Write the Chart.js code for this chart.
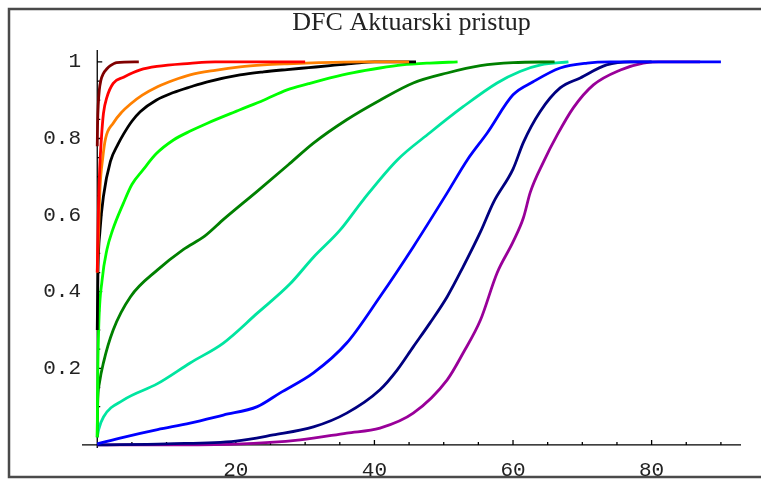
<!DOCTYPE html>
<html>
<head>
<meta charset="utf-8">
<script src="https://cdn.jsdelivr.net/npm/chart.js@4"></script>
<style>
  html, body { margin: 0; padding: 0; background: #fff; }
  canvas { display: block; }
</style>
</head>
<body>
<canvas id="myChart" width="761" height="479"></canvas>
<script>
// tick labels
const xTickVals = [20, 40, 60, 80];
const yTickVals = [0.2, 0.4, 0.6, 0.8, 1];

// one x/y pair per curve
const darkRedX = [0, 0.05, 0.15, 0.3, 0.5, 0.9, 1.4, 1.9, 2.8, 6];
const darkRedY = [0.78, 0.84, 0.89, 0.927, 0.95, 0.97, 0.982, 0.99, 0.998, 1];

const redX = [0, 0.15, 0.35, 0.6, 0.9, 1.4, 2.3, 3.8, 6.2, 8.6, 13.4, 17, 30];
const redY = [0.45, 0.6, 0.72, 0.8, 0.866, 0.908, 0.944, 0.96, 0.979, 0.988, 0.996, 1, 1];

const orangeX = [0, 0.2, 0.4, 0.8, 1.2, 2.3, 3.5, 4.8, 6.5, 8.7, 11, 13.4, 17, 20.6, 24, 27.4, 32, 38, 45];
const orangeY = [0.45, 0.56, 0.67, 0.75, 0.8, 0.84, 0.868, 0.89, 0.913, 0.935, 0.952, 0.966, 0.978, 0.987, 0.992, 0.995, 0.998, 1, 1];

const blackX = [0, 0.1, 0.4, 0.9, 1.9, 3, 3.75, 5, 6.2, 8.5, 11, 13.5, 15.9, 20.6, 24, 27.4, 30.5, 33.6, 37, 40, 46];
const blackY = [0.3, 0.45, 0.56, 0.65, 0.74, 0.785, 0.81, 0.845, 0.87, 0.9, 0.92, 0.935, 0.948, 0.966, 0.974, 0.98, 0.985, 0.99, 0.996, 1, 1];

const limeX = [0, 0.05, 0.2, 0.7, 1.4, 2.2, 3.75, 5, 6.6, 8.5, 11, 13.5, 15.9, 20.6, 24, 27.4, 30.5, 33.6, 37, 40.8, 44, 48, 52];
const limeY = [0.02, 0.15, 0.3, 0.43, 0.51, 0.56, 0.63, 0.68, 0.718, 0.76, 0.796, 0.82, 0.84, 0.875, 0.9, 0.927, 0.943, 0.958, 0.972, 0.984, 0.992, 0.997, 1];

const greenX = [0, 0.05, 0.3, 0.9, 2.3, 4.8, 8.7, 12.4, 15.5, 18.3, 23.2, 27.8, 31.2, 36, 40.8, 45.6, 50.5, 55.3, 60, 66];
const greenY = [0.02, 0.1, 0.16, 0.215, 0.3, 0.387, 0.457, 0.51, 0.545, 0.59, 0.664, 0.735, 0.788, 0.849, 0.9, 0.945, 0.971, 0.99, 0.998, 1];

const aquaX = [0, 0.2, 0.9, 3.75, 8.7, 13.4, 18.2, 23.1, 27.8, 31.2, 35, 38.4, 43.3, 48, 52.8, 57.7, 61, 64, 68];
const aquaY = [0.02, 0.04, 0.073, 0.117, 0.16, 0.214, 0.266, 0.344, 0.42, 0.49, 0.56, 0.64, 0.744, 0.815, 0.883, 0.945, 0.975, 0.992, 1];

const blueX = [0, 3.75, 8.7, 13.4, 18.2, 23.1, 26.4, 31.2, 36, 40.8, 45.6, 50.5, 53.4, 56.3, 60, 62.9, 66.8, 70.7, 74, 90];
const blueY = [0.003, 0.02, 0.04, 0.057, 0.078, 0.1, 0.136, 0.188, 0.266, 0.387, 0.517, 0.658, 0.744, 0.815, 0.914, 0.948, 0.984, 0.997, 1, 1];

const navyX = [0, 10, 20, 25.4, 31.2, 36, 40.8, 43.3, 45.6, 48, 50.5, 52.8, 55.3, 57.2, 60, 61.5, 63.9, 66.8, 69.7, 73.5, 77, 80];
const navyY = [0, 0.003, 0.01, 0.026, 0.047, 0.083, 0.144, 0.196, 0.256, 0.318, 0.387, 0.465, 0.556, 0.634, 0.72, 0.79, 0.87, 0.932, 0.958, 0.992, 1, 1];

const purpleX = [0, 10, 20, 29.3, 36, 40.8, 45.6, 50.5, 52.8, 55.3, 57.7, 60, 61.5, 62.5, 64.4, 66.4, 68.7, 71.6, 75.5, 78.8, 81, 87];
const purpleY = [0, 0, 0.002, 0.013, 0.031, 0.044, 0.083, 0.17, 0.24, 0.326, 0.449, 0.53, 0.593, 0.66, 0.739, 0.81, 0.88, 0.94, 0.979, 0.997, 1, 1];

function krivulja(xs, ys, boja) {
    return {
        data: xs.map((x, i) => ({ x: x, y: ys[i] })),
        borderColor: boja,
        borderWidth: 2.8,
        pointRadius: 0,
        cubicInterpolationMode: 'monotone',
        fill: false
    };
}

const data = {
    datasets: [
        krivulja(darkRedX, darkRedY, '#800000'),
        krivulja(redX, redY, '#ff0000'),
        krivulja(orangeX, orangeY, '#ff8000'),
        krivulja(blackX, blackY, '#000000'),
        krivulja(limeX, limeY, '#00ff00'),
        krivulja(greenX, greenY, '#008000'),
        krivulja(aquaX, aquaY, '#00e5a0'),
        krivulja(blueX, blueY, '#0000ff'),
        krivulja(navyX, navyY, '#000080'),
        krivulja(purpleX, purpleY, '#990099')
    ]
};

const tickFont = { family: 'Liberation Mono', size: 21 };

// frame + mathematica style axes crossing at 0 with inward ticks
const osi = {
    id: 'osi',
    beforeDraw(chart) {
        const ctx = chart.ctx;
        ctx.save();
        ctx.fillStyle = '#fff';
        ctx.fillRect(0, 0, chart.width, chart.height);
        ctx.strokeStyle = '#4a4a4a';
        ctx.lineWidth = 2.5;
        ctx.strokeRect(9, 9, chart.width, 468);
        ctx.restore();
    },
    beforeDatasetsDraw(chart) {
        const { ctx, chartArea: a, scales: { x, y } } = chart;
        const x0 = x.getPixelForValue(0);
        const y0 = y.getPixelForValue(0);
        ctx.save();
        ctx.strokeStyle = '#000';
        ctx.lineWidth = 1.3;
        ctx.beginPath();
        ctx.moveTo(a.left, y0);
        ctx.lineTo(a.right, y0);
        ctx.moveTo(x0, a.top);
        ctx.lineTo(x0, a.bottom);
        for (let k = 1; k * 5 <= x.max; k++) {
            const px = x.getPixelForValue(k * 5);
            ctx.moveTo(px, y0);
            ctx.lineTo(px, y0 - (k % 4 === 0 ? 5 : 3));
        }
        for (let k = 1; k * 0.05 <= y.max; k++) {
            const py = y.getPixelForValue(k * 0.05);
            ctx.moveTo(x0, py);
            ctx.lineTo(x0 + (k % 4 === 0 ? 5 : 3), py);
        }
        ctx.stroke();
        ctx.restore();
    }
};

const config = {
    type: 'line',
    data: data,
    options: {
        responsive: false,
        animation: false,
        layout: {
            padding: { left: 43, right: 20, top: 8, bottom: 3 }
        },
        plugins: {
            legend: { display: false },
            tooltip: { enabled: false },
            title: {
                display: true,
                text: 'DFC Aktuarski pristup',
                fullSize: false,
                color: '#222',
                font: { family: 'Liberation Serif', size: 26, weight: 'normal' },
                padding: { top: 0, bottom: 10.8 }
            }
        },
        scales: {
            x: {
                type: 'linear',
                min: -2.2,
                max: 92.9,
                grid: { display: false, drawTicks: false },
                border: { display: false },
                afterBuildTicks: s => { s.ticks = xTickVals.map(v => ({ value: v })); },
                afterFit: s => { s.height = 28; },
                ticks: { font: tickFont, color: '#222', padding: 10, maxRotation: 0, callback: v => String(v) }
            },
            y: {
                type: 'linear',
                min: -0.008,
                max: 1.031,
                grid: { display: false, drawTicks: false },
                border: { display: false },
                afterBuildTicks: s => { s.ticks = yTickVals.map(v => ({ value: v })); },
                afterFit: s => { s.width = 39; },
                ticks: { font: tickFont, color: '#222', padding: 1, callback: v => String(v) }
            }
        }
    },
    plugins: [osi]
};

const myChart = new Chart(
    document.getElementById('myChart'),
    config
);
</script>
</body>
</html>
